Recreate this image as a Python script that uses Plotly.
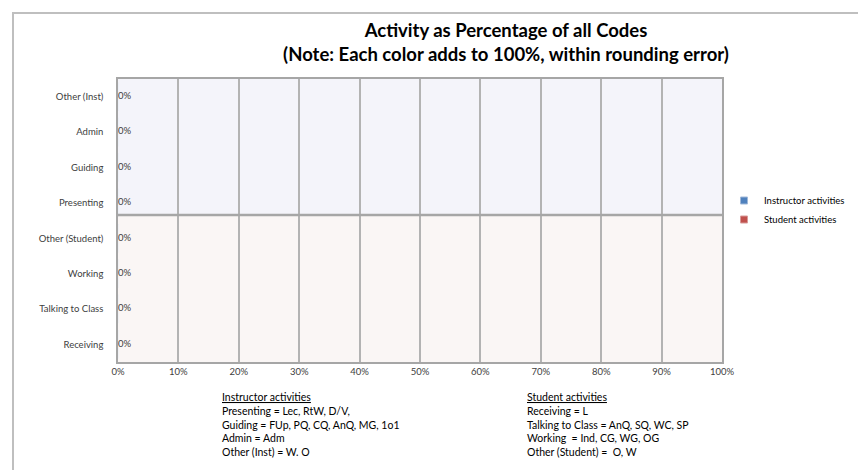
import plotly.graph_objects as go

instructor_cats = ["Presenting", "Guiding", "Admin", "Other (Inst)"]
instructor_vals = [0, 0, 0, 0]
student_cats = ["Receiving", "Talking to Class", "Working", "Other (Student)"]
student_vals = [0, 0, 0, 0]
category_order = student_cats + instructor_cats
x_ticks = [0, 0.1, 0.2, 0.3, 0.4, 0.5, 0.6, 0.7, 0.8, 0.9, 1.0]

title_text = "Activity as Percentage of all Codes<br>(Note: Each color adds to 100%, within rounding error)"
inst_note = ["<u>Instructor activities</u>", "Presenting = Lec, RtW, D/V,",
             "Guiding = FUp, PQ, CQ, AnQ, MG, 1o1", "Admin = Adm", "Other (Inst) = W. O"]
stud_note = ["<u>Student activities</u>", "Receiving = L",
             "Talking to Class = AnQ, SQ, WC, SP", "Working  = Ind, CG, WG, OG",
             "Other (Student) =  O, W"]

FONT = "Lato, Carlito, Calibri, sans-serif"
W, H = 866, 470
L, R, T, B = 110, 714, 71, 354
pw, ph = R - L, B - T

def px(x):
    return (x - L) / pw

def py(y):
    return (B - y) / ph

fig = go.Figure()
fig.add_trace(go.Bar(y=instructor_cats, x=instructor_vals, orientation="h",
                     name="Instructor activities", marker_color="#4f81bd", showlegend=False))
fig.add_trace(go.Bar(y=student_cats, x=student_vals, orientation="h",
                     name="Student activities", marker_color="#c0504d", showlegend=False))
fig.add_trace(go.Scatter(y=instructor_cats + student_cats, x=instructor_vals + student_vals,
                         mode="text", text=[f"{v:.0%}" for v in instructor_vals + student_vals],
                         textposition="middle right", showlegend=False, hoverinfo="skip",
                         textfont=dict(family=FONT, size=9.5, color="#404040")))
# legend entries (small square swatches like the original)
fig.add_trace(go.Scatter(x=[None], y=[None], mode="markers", name="Instructor activities",
                         marker=dict(symbol="square", size=7, color="#4f81bd",
                                     line=dict(color="#a0b8d8", width=1))))
fig.add_trace(go.Scatter(x=[None], y=[None], mode="markers", name="Student activities",
                         marker=dict(symbol="square", size=7, color="#c0504d",
                                     line=dict(color="#d89a98", width=1))))

div = py(207)
shapes = [
    dict(type="rect", xref="paper", yref="paper", x0=0, x1=1, y0=div, y1=1,
         fillcolor="#f4f4fa", line_width=0, layer="below"),
    dict(type="rect", xref="paper", yref="paper", x0=0, x1=1, y0=0, y1=div,
         fillcolor="#faf6f5", line_width=0, layer="below"),
    dict(type="line", xref="paper", yref="paper", x0=0, x1=1, y0=div, y1=div,
         line=dict(color="#a6a6a6", width=2.5)),
    dict(type="rect", xref="paper", yref="paper", x0=px(5), x1=px(1000), y0=py(467), y1=py(5),
         line=dict(color="#bfbfbf", width=2), fillcolor="rgba(0,0,0,0)"),
]

annotations = []
for i, line in enumerate(inst_note):
    annotations.append(dict(text=line, xref="paper", yref="paper", x=px(212), y=py(389 + 13.75 * i),
                            xanchor="left", yanchor="middle", align="left", showarrow=False,
                            font=dict(family=FONT, size=10.5, color="#000000")))
for i, line in enumerate(stud_note):
    annotations.append(dict(text=line, xref="paper", yref="paper", x=px(517), y=py(389 + 13.75 * i),
                            xanchor="left", yanchor="middle", align="left", showarrow=False,
                            font=dict(family=FONT, size=10.5, color="#000000")))

fig.update_layout(
    width=W, height=H,
    margin=dict(l=L, r=W - R, t=T, b=H - B),
    paper_bgcolor="white", plot_bgcolor="rgba(0,0,0,0)",
    title=dict(text=title_text, x=498 / W, xanchor="center", y=1 - 29 / H, yanchor="top",
               font=dict(family=FONT, size=18.5, color="#000000", weight="bold")),
    barmode="group",
    shapes=shapes, annotations=annotations,
    legend=dict(x=px(716), y=py(202), xanchor="left", yanchor="middle",
                font=dict(family=FONT, size=9.5, color="#000000"),
                itemwidth=30, tracegroupgap=0, bgcolor="rgba(0,0,0,0)"),
    font=dict(family=FONT, size=9.5, color="#404040"),
)
fig.update_xaxes(range=[0, 1], tickvals=x_ticks, tickformat=".0%", showgrid=True,
                 gridcolor="#b3b3b3", gridwidth=1.5, showline=True, linecolor="#a6a6a6",
                 linewidth=1.5, mirror=True, zeroline=False, ticks="", ticklen=0,
                 tickfont=dict(family=FONT, size=9.5, color="#404040"), fixedrange=True)
fig.update_yaxes(type="category", categoryorder="array", categoryarray=category_order,
                 range=[-0.5, 7.5], showgrid=False, showline=True, linecolor="#a6a6a6",
                 linewidth=1.5, mirror=True, zeroline=False, ticks="", ticklabelstandoff=11,
                 tickfont=dict(family=FONT, size=9.5, color="#404040"), fixedrange=True)

fig.write_html("out.html")
